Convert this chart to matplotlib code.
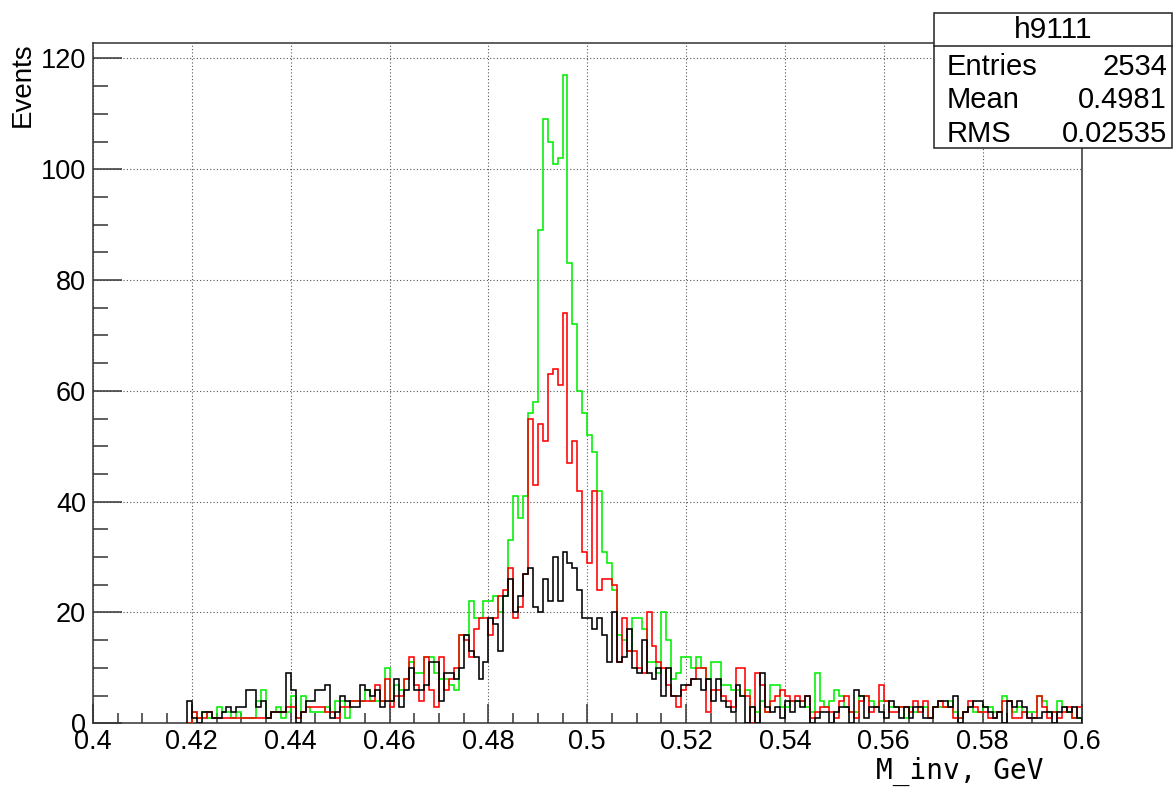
import numpy as np
import matplotlib
matplotlib.use("Agg")
import matplotlib.pyplot as plt
from matplotlib.patches import Rectangle
from matplotlib.lines import Line2D
from matplotlib.ticker import MultipleLocator, FuncFormatter

plt.rcParams['font.family'] = ['Liberation Sans', 'DejaVu Sans']

# Binning: 1 MeV bins, first filled bin starts at 0.419 GeV
bin_lo = 0.419
bin_w = 0.001

counts_black = (
    [4, 1, 0, 2, 2, 1, 1, 2, 3, 2, 3, 3, 6, 6, 3, 4, 1, 2, 2, 2, 9, 6, 0, 2, 4, 4, 6, 6, 7, 1, 2]
    + [5, 4, 3, 3, 7, 6, 5, 6, 3, 4, 4, 8, 3, 6, 10, 6, 6, 7, 11, 11, 4, 9, 9, 8, 10, 16, 13, 12, 8, 11]
    + [19, 18, 13, 23, 26, 20, 23, 27, 28, 21, 20, 26, 22, 30, 22, 31, 29, 28, 24, 19, 19, 17, 19, 16, 11, 20, 11]
    + [12, 17, 10, 9, 15, 9, 8, 10, 5, 10, 5, 5, 7, 7, 8, 8, 6, 8, 4, 8, 4, 3, 2, 7, 5, 0, 3, 0, 9, 3]
    + [2, 3, 1, 4, 2, 4, 3, 5, 0, 1, 2, 2, 0, 2, 3, 3, 0, 6, 5, 1, 3, 3, 2, 1, 4, 3, 1, 3, 1, 3, 3, 1]
    + [1, 3, 4, 4, 3, 5, 0, 2, 3, 4, 4, 3, 2, 1, 2, 0, 4, 3, 4, 3, 1, 1, 1, 2, 2, 0, 2, 3, 2, 3, 1]
)

counts_green = (
    [0, 2, 1, 2, 1, 1, 3, 2, 2, 1, 2, 1, 1, 1, 4, 6, 1, 2, 3, 1, 2, 5, 1, 5, 3, 2, 2, 2, 3, 2, 4]
    + [4, 1, 4, 4, 4, 6, 4, 4, 4, 10, 4, 7, 6, 8, 11, 9, 9, 12, 12, 9, 8, 8, 7, 6, 16, 16, 22, 19, 19, 22]
    + [22, 23, 20, 23, 33, 41, 37, 41, 56, 58, 89, 109, 105, 101, 102, 117, 83, 72, 60, 56, 52, 49, 42, 31, 29, 24, 16]
    + [15, 13, 19, 19, 17, 11, 11, 9, 20, 15, 8, 9, 12, 12, 10, 12, 10, 8, 11, 11, 7, 7, 6, 6, 5, 6, 3, 2, 4, 2]
    + [7, 7, 3, 3, 4, 4, 4, 3, 2, 9, 4, 3, 4, 6, 5, 3, 2, 2, 5, 5, 4, 3, 4, 4, 3, 3, 3, 1, 3, 2, 3, 3]
    + [1, 3, 3, 3, 4, 2, 1, 2, 3, 2, 2, 3, 3, 2, 2, 5, 4, 2, 3, 2, 2, 2, 5, 4, 2, 2, 4, 3, 2, 1, 1]
)

counts_red = (
    [0, 2, 1, 1, 2, 1, 1, 1, 1, 1, 1, 1, 1, 1, 1, 1, 1, 2, 2, 2, 3, 3, 1, 2, 3, 3, 3, 3, 2, 2, 1]
    + [3, 3, 4, 4, 4, 4, 4, 7, 4, 8, 3, 5, 5, 8, 12, 7, 4, 12, 6, 3, 12, 6, 8, 10, 16, 15, 12, 17, 19, 19]
    + [16, 19, 23, 24, 28, 19, 21, 27, 55, 43, 54, 51, 63, 64, 61, 74, 47, 51, 42, 31, 29, 42, 24, 26, 26, 25, 11]
    + [19, 13, 13, 10, 9, 20, 14, 11, 10, 7, 5, 3, 6, 7, 8, 10, 10, 2, 6, 6, 5, 4, 3, 10, 10, 5, 0, 9, 7, 2]
    + [4, 5, 6, 5, 4, 5, 4, 5, 1, 2, 3, 3, 2, 1, 4, 5, 2, 1, 4, 5, 2, 3, 7, 4, 2, 2, 3, 3, 2, 4, 2, 4]
    + [1, 3, 4, 3, 3, 1, 1, 2, 4, 3, 2, 2, 1, 1, 2, 4, 4, 1, 1, 2, 1, 1, 5, 3, 1, 2, 1, 2, 3, 1, 3]
)

x_ticks = [0.40, 0.42, 0.44, 0.46, 0.48, 0.50, 0.52, 0.54, 0.56, 0.58, 0.60]
y_ticks = [0, 20, 40, 60, 80, 100, 120]

stats_title = "h9111"
stats_rows = [("Entries", "2534"), ("Mean", "0.4981"), ("RMS", "0.02535")]

W, H = 1175, 787
fig = plt.figure(figsize=(W / 100, H / 100), dpi=100)
fig.patch.set_facecolor("white")

ax_l, ax_r, ax_b, ax_t = 93, 1081.5, 723.3, 42.7
ax = fig.add_axes([ax_l / W, 1 - ax_b / H, (ax_r - ax_l) / W, (ax_b - ax_t) / H])

n = len(counts_black)
edges = np.round(bin_lo + bin_w * np.arange(n + 1), 6)

for vals, col in [(counts_green, "#00ee00"), (counts_red, "#ff0000"), (counts_black, "#000000")]:
    ax.stairs(np.asarray(vals, float), edges, baseline=0, color=col, lw=1.15, zorder=3)

ax.set_xlim(0.4, 0.6)
ax.set_ylim(0, 1.05 * max(counts_green))

ax.set_xticks(x_ticks)
ax.set_yticks(y_ticks)
ax.xaxis.set_minor_locator(MultipleLocator(0.005))
ax.yaxis.set_minor_locator(MultipleLocator(5))
ax.xaxis.set_major_formatter(FuncFormatter(lambda v, p: f"{v:g}"))
ax.yaxis.set_major_formatter(FuncFormatter(lambda v, p: f"{v:g}"))

ax.tick_params(axis="x", which="major", direction="in", length=14, width=1.1,
               labelsize=19.5, pad=4, color="#333333", top=False)
ax.tick_params(axis="x", which="minor", direction="in", length=7, width=1.1,
               color="#333333", top=False)
ax.tick_params(axis="y", which="major", direction="in", length=21, width=1.1,
               labelsize=19.5, pad=5, color="#333333", right=False)
ax.tick_params(axis="y", which="minor", direction="in", length=11, width=1.1,
               color="#333333", right=False)

for s in ax.spines.values():
    s.set_color("#333333")
    s.set_linewidth(1.1)

ax.grid(True, which="major", color="#555555", linestyle=(0, (1, 2)), linewidth=0.8, zorder=1)
ax.set_axisbelow(True)

fig.text(23 / W, 1 - 42 / H, "Events", rotation=90, ha="center", va="top", fontsize=20)
fig.text(1043 / W, 1 - 771 / H, "M_inv, GeV", ha="right", va="center",
         fontsize=20, family="DejaVu Sans Mono")

# Statistics box
bx0, by0, bx1, by1 = 934, 12.7, 1172, 148.3
fig.patches.append(Rectangle((bx0 / W, 1 - by1 / H), (bx1 - bx0) / W, (by1 - by0) / H,
                             transform=fig.transFigure, facecolor="white",
                             edgecolor="#222222", linewidth=1.1, zorder=10))
fig.lines.append(Line2D([bx0 / W, bx1 / W], [1 - 45.7 / H, 1 - 45.7 / H],
                        transform=fig.transFigure, color="#222222", linewidth=1.1, zorder=11))
fig.text((bx0 + bx1) / 2 / W, 1 - 30 / H, stats_title, ha="center", va="center",
         fontsize=21.5, zorder=12)
for i, (lab, val) in enumerate(stats_rows):
    yc = 1 - (67 + 33.3 * i) / H
    fig.text(947 / W, yc, lab, ha="left", va="center", fontsize=21, zorder=12)
    fig.text(1167 / W, yc, val, ha="right", va="center", fontsize=21, zorder=12)

fig.savefig("out.png", dpi=100, facecolor="white")
